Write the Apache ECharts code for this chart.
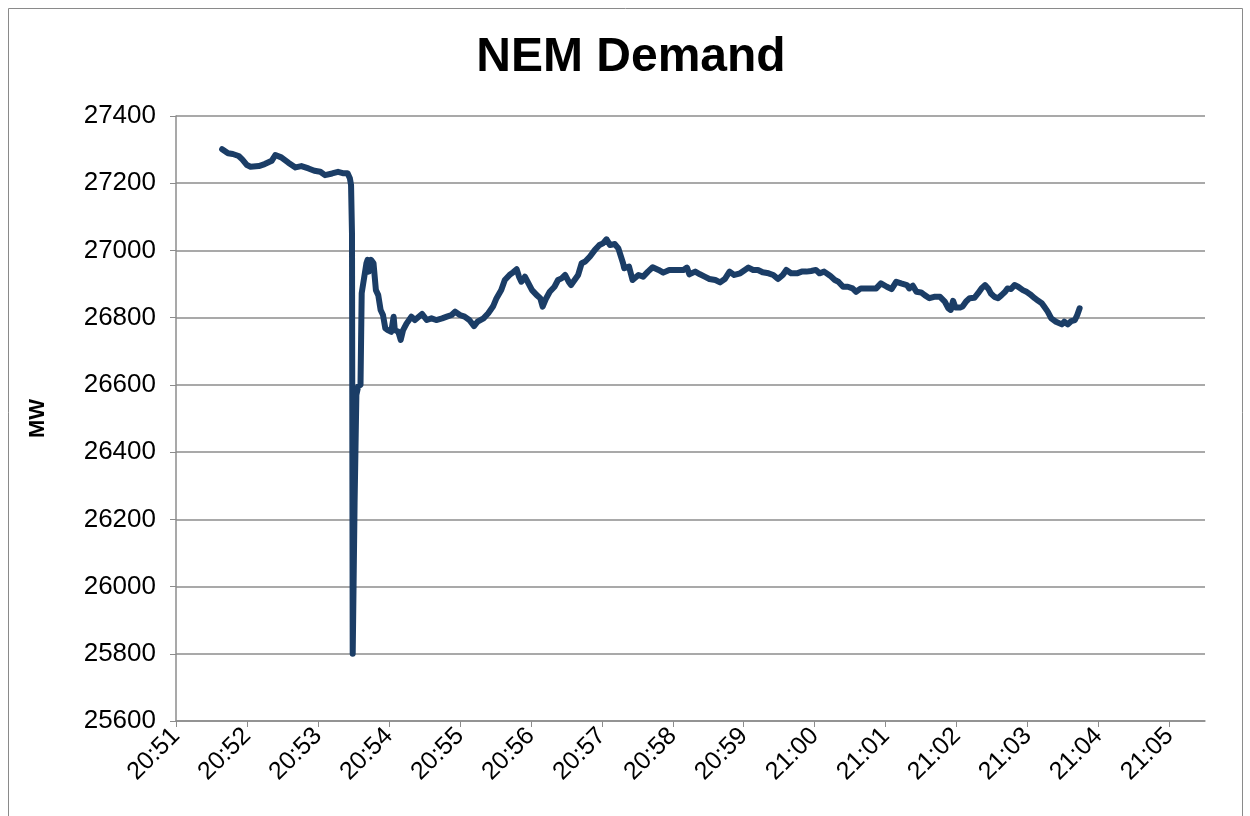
<!DOCTYPE html>
<html>
<head>
<meta charset="utf-8">
<script src="https://cdn.jsdelivr.net/npm/echarts@6/dist/echarts.min.js"></script>
<style>html,body{margin:0;padding:0;background:#fff;}#c{width:1250px;height:816px;}</style>
</head>
<body>
<div id="c"></div>
<script>
// seconds after 20:51:00
const seconds = [39,44,48,53,56,60,63,70,75,81,84,89,95,101,106,112,117,122,126,132,137,141,145,147,148,148.8,149.4,151,152.5,154,156,157,158.3,161,162,163,165,167,169,171,173,175,177,179,182,184,185,188,190,192,195,199,202,208,212,216,220,225,229,233,236,240,244,248,252,255,260,264,268,271,275,278,282,285,288,290,292,295,298,301,305,308,310,313,316,320,323,326,329,332,334,337,340,343,346,350,354,358,361,364,367,371,374,378,379,383,386,391,395,399,403,408,412,417,423,429,432,434,439,443,447,451,456,460,464,468,472,477,481,484,488,492,496,501,505,509,513,516,520,525,529,533,537,541,544,548,553,557,560,564,568,572,575,579,584,588,592,596,601,605,609,613,618,620,623,626,630,633,637,641,646,650,653,655,657,659,663,665,668,671,675,678,681,684,687,689,692,695,698,701,703,706,709,712,716,719,722,726,729,732,734,737,740,744,749,751,754,757,760,762,764];
const demandMW = [27301,27289,27287,27281,27271,27254,27249,27251,27257,27267,27284,27277,27261,27247,27251,27244,27237,27234,27224,27229,27234,27230,27230,27215,27195,27050,25800,26250,26570,26595,26600,26873,26877,26962,26972,26937,26972,26962,26882,26867,26823,26808,26768,26763,26758,26803,26763,26758,26734,26763,26783,26803,26793,26811,26793,26798,26793,26798,26803,26808,26818,26808,26803,26793,26775,26788,26798,26813,26833,26858,26882,26912,26927,26935,26944,26922,26907,26922,26902,26882,26867,26858,26833,26858,26877,26892,26912,26917,26927,26907,26897,26912,26927,26962,26967,26982,27001,27016,27021,27033,27016,27019,27006,26962,26947,26952,26912,26927,26922,26937,26950,26942,26934,26942,26942,26942,26949,26929,26937,26929,26922,26915,26912,26905,26915,26937,26927,26932,26942,26949,26942,26942,26935,26932,26927,26915,26927,26942,26932,26932,26937,26937,26939,26942,26932,26937,26925,26912,26907,26892,26892,26887,26877,26887,26887,26887,26887,26902,26892,26885,26907,26902,26897,26887,26895,26877,26875,26867,26858,26862,26862,26848,26828,26823,26850,26830,26830,26833,26848,26858,26859,26872,26887,26897,26885,26872,26862,26858,26867,26877,26887,26885,26897,26892,26882,26877,26870,26858,26850,26843,26833,26818,26798,26788,26780,26788,26780,26790,26793,26808,26828];
const tickSeconds = [0,60,120,180,240,300,360,420,480,540,600,660,720,780,840];
const tickLabels = ['20:51','20:52','20:53','20:54','20:55','20:56','20:57','20:58','20:59','21:00','21:01','21:02','21:03','21:04','21:05'];

const chart = echarts.init(document.getElementById('c'), null, {renderer:'canvas'});
const pts = seconds.map((s,i)=>[s, demandMW[i]]);
const font = 'Liberation Sans, Arial, sans-serif';
chart.setOption({
  animation:false,
  backgroundColor:'#ffffff',
  title:{text:'NEM Demand', left:626, textAlign:'center', top:29,
    textStyle:{fontFamily:font, fontWeight:'bold', fontSize:48, color:'#000'}},
  graphic:[{type:'rect', shape:{x:8.5,y:8.5,width:1234,height:900},
    style:{fill:'none', stroke:'#8a8a8a', lineWidth:1}, silent:true}],
  grid:{left:176, top:116, right:45, bottom:95, containLabel:false},
  xAxis:{type:'value', min:0, max:870,
    axisLine:{show:true, lineStyle:{color:'#8c8c8c', width:1.5}},
    axisTick:{show:true, length:6, lineStyle:{color:'#8c8c8c'}, customValues:tickSeconds},
    axisLabel:{customValues:tickSeconds, rotate:45, margin:11, fontFamily:font, fontSize:25, color:'#000',
      formatter:(v)=>{const i=tickSeconds.indexOf(v); return i>=0?tickLabels[i]:'';}},
    splitLine:{show:false}},
  yAxis:{type:'value', min:25600, max:27400, interval:200,
    name:'MW', nameLocation:'middle', nameGap:127, nameRotate:90,
    nameTextStyle:{fontFamily:font, fontWeight:'bold', fontSize:22, color:'#000'},
    axisLine:{show:true, lineStyle:{color:'#8c8c8c', width:1.5}},
    axisTick:{show:true, length:6, lineStyle:{color:'#8c8c8c'}},
    axisLabel:{margin:20, fontFamily:font, fontSize:26, color:'#000', formatter:(v)=>String(v)},
    splitLine:{show:true, lineStyle:{color:'#8c8c8c', width:1.5}}},
  series:[{type:'line', data:pts, showSymbol:false, symbol:'none',
    lineStyle:{color:'#1B3D66', width:6, join:'round', cap:'round'}}]
});
</script>
</body>
</html>
